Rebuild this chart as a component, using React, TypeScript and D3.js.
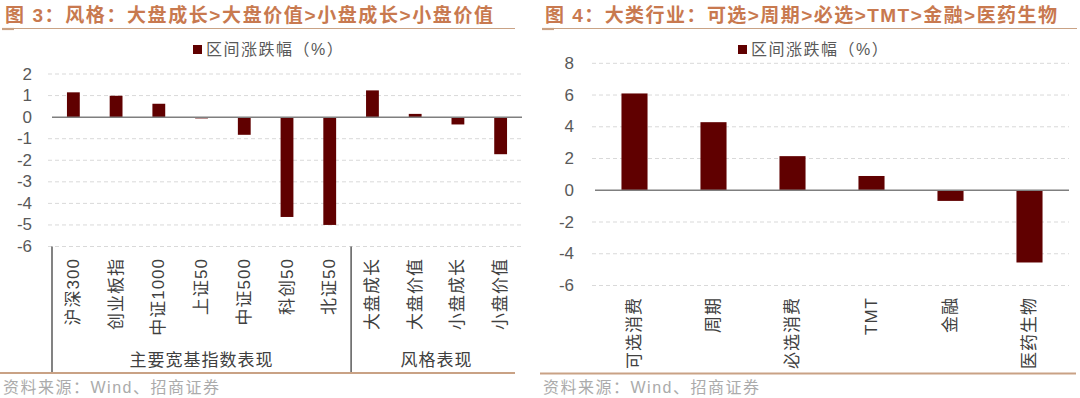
import React from 'react';
import * as d3 from 'd3';

const leftTitle = '图 3：风格：大盘成长>大盘价值>小盘成长>小盘价值';
const rightTitle = '图 4：大类行业：可选>周期>必选>TMT>金融>医药生物';
const legendLabel = '区间涨跌幅（%）';
const sourceText = '资料来源：Wind、招商证券';

const leftCats = ['沪深300', '创业板指', '中证1000', '上证50', '中证500', '科创50', '北证50', '大盘成长', '大盘价值', '小盘成长', '小盘价值'];
const leftValues = [1.15, 0.99, 0.62, -0.06, -0.82, -4.63, -5.0, 1.24, 0.15, -0.34, -1.72];
const leftGroupNames = ['主要宽基指数表现', '风格表现'];
const leftGroupSizes = [7, 4];
const leftTicks = [2, 1, 0, -1, -2, -3, -4, -5, -6];

const rightCats = ['可选消费', '周期', '必选消费', 'TMT', '金融', '医药生物'];
const rightValues = [6.1, 4.29, 2.15, 0.9, -0.67, -4.55];
const rightTicks = [8, 6, 4, 2, 0, -2, -4, -6];

const BAR = '#600000';
const GRID = '#d9d9d9';
const AXIS = '#7f7f7f';
const TICK_TXT = '#595959';
const CAT_TXT = '#404040';
const TITLE = '#c8794f';
const RULE = '#c9a285';
const FONT = '"Liberation Sans", "Noto Sans CJK SC", sans-serif';

function Panel(props: {
  x0: number; x1: number; gridX0: number; yTop: number; yBot: number; domain: [number, number];
  cats: string[]; values: number[]; ticks: number[]; padIn: number; labelTop: number; tickRight: number;
  groups?: { names: string[]; sizes: number[]; boxBottom: number; labelY: number };
}) {
  const { x0, x1, gridX0, yTop, yBot, domain, cats, values, ticks, padIn, labelTop, tickRight, groups } = props;
  const y = d3.scaleLinear().domain(domain).range([yBot, yTop]);
  const x = d3.scaleBand<string>().domain(cats).range([x0, x1]).paddingInner(padIn).paddingOuter(padIn / 2);
  const step = x.step();
  const left = x0;
  let groupEls: React.ReactNode = null;
  if (groups) {
    let acc = 0;
    const els: React.ReactNode[] = [];
    els.push(<line key="gl0" x1={left} x2={left} y1={yBot} y2={groups.boxBottom} stroke="#404040" strokeWidth={1.3} />);
    groups.names.forEach((n, i) => {
      const start = left + acc * step;
      acc += groups.sizes[i];
      const end = left + acc * step;
      if (i < groups.names.length - 1) {
        els.push(<line key={'gs' + i} x1={end} x2={end} y1={yBot} y2={groups.boxBottom} stroke="#404040" strokeWidth={1.3} />);
      }
      els.push(
        <text key={'gt' + i} x={(start + end) / 2} y={groups.labelY} textAnchor="middle" dominantBaseline="central"
          fontSize={17} fill={CAT_TXT} letterSpacing={1}>{n}</text>
      );
    });
    groupEls = els;
  }
  return (
    <g fontFamily={FONT}>
      {ticks.filter(t => t !== 0).map(t => (
        <line key={'g' + t} x1={gridX0} x2={x1} y1={y(t)} y2={y(t)} stroke={GRID} strokeWidth={1} strokeDasharray="4 3" />
      ))}
      {ticks.map(t => (
        <text key={'t' + t} x={tickRight} y={y(t)} textAnchor="end" dominantBaseline="central" fontSize={17} fill={TICK_TXT}>{t}</text>
      ))}
      {cats.map((c, i) => {
        const v = values[i];
        return (
          <rect key={'b' + c} x={x(c)} width={x.bandwidth()} y={y(Math.max(0, v))} height={Math.abs(y(v) - y(0))} fill={BAR} />
        );
      })}
      <line x1={x0} x2={x1} y1={y(0)} y2={y(0)} stroke={AXIS} strokeWidth={1.5} />
      {cats.map(c => {
        const cx = (x(c) as number) + x.bandwidth() / 2;
        return (
          <text key={'c' + c} transform={`translate(${cx},${labelTop}) rotate(-90)`} textAnchor="end" dominantBaseline="central"
            fontSize={17} fill={CAT_TXT} letterSpacing={1}>{c}</text>
        );
      })}
      {groupEls}
    </g>
  );
}

function Legend(props: { x: number; y: number }) {
  return (
    <g fontFamily={FONT}>
      <rect x={props.x} y={props.y - 4.5} width={9} height={9} fill={BAR} />
      <text x={props.x + 13} y={props.y} dominantBaseline="central" fontSize={16} fill={TICK_TXT} letterSpacing={1.5}>{legendLabel}</text>
    </g>
  );
}

export default function App() {
  return (
    <svg width={1080} height={398} style={{ position: 'absolute', left: 0, top: 0, background: '#fff' }}>
      <rect width={1080} height={398} fill="#fff" />
      <text x={5} y={22} fontFamily={FONT} fontSize={19} fontWeight={700} fill={TITLE} textLength={488} lengthAdjust="spacing">{leftTitle}</text>
      <text x={545} y={22} fontFamily={FONT} fontSize={19} fontWeight={700} fill={TITLE} textLength={512} lengthAdjust="spacing">{rightTitle}</text>
      <line x1={2} x2={515} y1={28.5} y2={28.5} stroke={RULE} strokeWidth={1.2} />
      <line x1={2} x2={14} y1={29} y2={29} stroke={RULE} strokeWidth={2.2} />
      <line x1={542} x2={1077} y1={28.5} y2={28.5} stroke={RULE} strokeWidth={1.2} />
      <line x1={542} x2={554} y1={29} y2={29} stroke={RULE} strokeWidth={2.2} />

      <Legend x={193} y={49.5} />
      <Legend x={738} y={49.5} />

      <Panel x0={52} x1={522} gridX0={48} yTop={74} yBot={246.5} domain={[-6, 2]} cats={leftCats} values={leftValues}
        ticks={leftTicks} padIn={0.7} labelTop={258} tickRight={32}
        groups={{ names: leftGroupNames, sizes: leftGroupSizes, boxBottom: 372, labelY: 360 }} />
      <Panel x0={595} x1={1069} gridX0={592} yTop={63.3} yBot={285.5} domain={[-6, 8]} cats={rightCats} values={rightValues}
        ticks={rightTicks} padIn={0.67} labelTop={297} tickRight={574} />

      <line x1={0} x2={515} y1={373} y2={373} stroke={RULE} strokeWidth={2} />
      <line x1={540} x2={1076} y1={373.5} y2={373.5} stroke={RULE} strokeWidth={2} />
      <text x={3} y={387} dominantBaseline="central" fontFamily={FONT} fontSize={16} fill="#ababab" letterSpacing={1.5}>{sourceText}</text>
      <text x={543} y={387} dominantBaseline="central" fontFamily={FONT} fontSize={16} fill="#ababab" letterSpacing={1.5}>{sourceText}</text>
    </svg>
  );
}
